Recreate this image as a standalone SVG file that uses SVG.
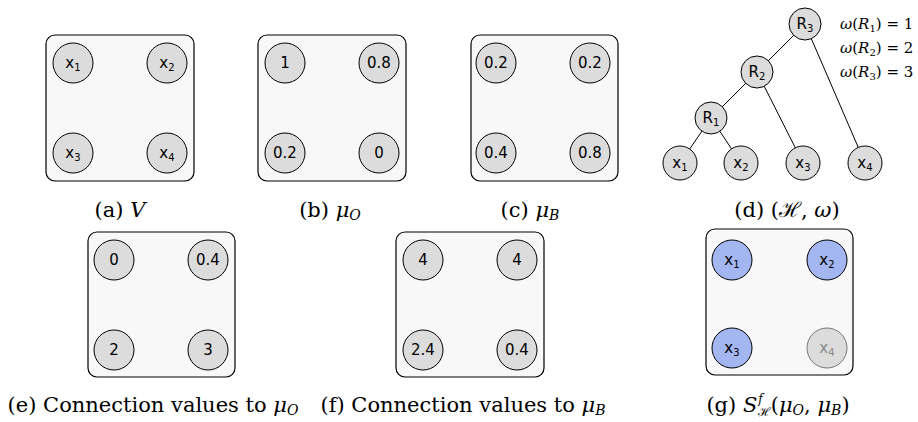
<svg xmlns="http://www.w3.org/2000/svg" width="918" height="422" viewBox="0 0 918 422">
<style>
.box{fill:#f8f8f8;stroke:#000;stroke-width:1.2}
.n{fill:#dcdcdc;stroke:#000;stroke-width:1}
.b{fill:#a4b6f2;stroke:#000;stroke-width:1}
.g{fill:#dcdcdc;stroke:#777;stroke-width:1}
.t{font-family:"DejaVu Sans",sans-serif;font-size:15px;text-anchor:middle;fill:#000}
.tg{fill:#888}
.cap{font-family:"DejaVu Serif",serif;font-size:21px;text-anchor:middle;fill:#000}
.om{font-family:"DejaVu Serif",serif;font-size:15px;fill:#000}
.e{stroke:#000;stroke-width:1}
</style>
<rect width="918" height="422" fill="#fff"/>
<g id="connectors">
<line class="e" x1="805" y1="24" x2="757" y2="72"/>
<line class="e" x1="805" y1="24" x2="865" y2="163"/>
<line class="e" x1="757" y1="72" x2="711" y2="118"/>
<line class="e" x1="757" y1="72" x2="803" y2="163"/>
<line class="e" x1="711" y1="118" x2="680" y2="163"/>
<line class="e" x1="711" y1="118" x2="741" y2="163"/>
</g>
<g id="panel-a">
<rect class="box" x="46" y="35" width="148" height="146" rx="9"/>
<circle class="n" cx="73" cy="63" r="20"/><text class="t" x="73" y="68">x<tspan font-size="10" dy="3">1</tspan></text>
<circle class="n" cx="167" cy="63" r="20"/><text class="t" x="167" y="68">x<tspan font-size="10" dy="3">2</tspan></text>
<circle class="n" cx="73" cy="153" r="20"/><text class="t" x="73" y="158">x<tspan font-size="10" dy="3">3</tspan></text>
<circle class="n" cx="167" cy="153" r="20"/><text class="t" x="167" y="158">x<tspan font-size="10" dy="3">4</tspan></text>
<text class="cap" x="120" y="217">(a) <tspan font-style="italic">V</tspan></text>
</g>
<g id="panel-b">
<rect class="box" x="258" y="35" width="148" height="146" rx="9"/>
<circle class="n" cx="285" cy="63" r="20"/><text class="t" x="285" y="68">1</text>
<circle class="n" cx="379" cy="63" r="20"/><text class="t" x="379" y="68">0.8</text>
<circle class="n" cx="285" cy="153" r="20"/><text class="t" x="285" y="158">0.2</text>
<circle class="n" cx="379" cy="153" r="20"/><text class="t" x="379" y="158">0</text>
<text class="cap" x="330" y="217">(b) <tspan font-style="italic">μ</tspan><tspan font-style="italic" font-size="14" dy="3">O</tspan></text>
</g>
<g id="panel-c">
<rect class="box" x="471" y="35" width="147" height="146" rx="9"/>
<circle class="n" cx="496" cy="63" r="20"/><text class="t" x="496" y="68">0.2</text>
<circle class="n" cx="590" cy="63" r="20"/><text class="t" x="590" y="68">0.2</text>
<circle class="n" cx="496" cy="153" r="20"/><text class="t" x="496" y="158">0.4</text>
<circle class="n" cx="590" cy="153" r="20"/><text class="t" x="590" y="158">0.8</text>
<text class="cap" x="530" y="217">(c) <tspan font-style="italic">μ</tspan><tspan font-style="italic" font-size="14" dy="3">B</tspan></text>
</g>
<g id="panel-d">
<circle class="n" cx="805" cy="24" r="16"/><text class="t" x="805" y="29">R<tspan font-size="10" dy="3">3</tspan></text>
<circle class="n" cx="757" cy="72" r="16"/><text class="t" x="757" y="77">R<tspan font-size="10" dy="3">2</tspan></text>
<circle class="n" cx="711" cy="118" r="16"/><text class="t" x="711" y="123">R<tspan font-size="10" dy="3">1</tspan></text>
<circle class="n" cx="680" cy="163" r="17"/><text class="t" x="680" y="168">x<tspan font-size="10" dy="3">1</tspan></text>
<circle class="n" cx="741" cy="163" r="17"/><text class="t" x="741" y="168">x<tspan font-size="10" dy="3">2</tspan></text>
<circle class="n" cx="803" cy="163" r="17"/><text class="t" x="803" y="168">x<tspan font-size="10" dy="3">3</tspan></text>
<circle class="n" cx="865" cy="163" r="17"/><text class="t" x="865" y="168">x<tspan font-size="10" dy="3">4</tspan></text>
<text class="om" x="840" y="29"><tspan font-style="italic">ω</tspan>(<tspan font-style="italic">R</tspan><tspan font-size="10" dy="3">1</tspan><tspan dy="-3">) = 1</tspan></text>
<text class="om" x="840" y="53"><tspan font-style="italic">ω</tspan>(<tspan font-style="italic">R</tspan><tspan font-size="10" dy="3">2</tspan><tspan dy="-3">) = 2</tspan></text>
<text class="om" x="840" y="77"><tspan font-style="italic">ω</tspan>(<tspan font-style="italic">R</tspan><tspan font-size="10" dy="3">3</tspan><tspan dy="-3">) = 3</tspan></text>
<text class="cap" x="787" y="217">(d) (ℋ, <tspan font-style="italic">ω</tspan>)</text>
</g>
<g id="panel-e">
<rect class="box" x="88" y="232" width="147" height="145" rx="9"/>
<circle class="n" cx="114" cy="260" r="20"/><text class="t" x="114" y="265">0</text>
<circle class="n" cx="208" cy="260" r="20"/><text class="t" x="208" y="265">0.4</text>
<circle class="n" cx="114" cy="350" r="20"/><text class="t" x="114" y="355">2</text>
<circle class="n" cx="208" cy="350" r="20"/><text class="t" x="208" y="355">3</text>
<text class="cap" x="153" y="412">(e) Connection values to <tspan font-style="italic">μ</tspan><tspan font-style="italic" font-size="14" dy="3">O</tspan></text>
</g>
<g id="panel-f">
<rect class="box" x="396" y="232" width="148" height="145" rx="9"/>
<circle class="n" cx="423" cy="260" r="20"/><text class="t" x="423" y="265">4</text>
<circle class="n" cx="517" cy="260" r="20"/><text class="t" x="517" y="265">4</text>
<circle class="n" cx="423" cy="350" r="20"/><text class="t" x="423" y="355">2.4</text>
<circle class="n" cx="517" cy="350" r="20"/><text class="t" x="517" y="355">0.4</text>
<text class="cap" x="463" y="412">(f) Connection values to <tspan font-style="italic">μ</tspan><tspan font-style="italic" font-size="14" dy="3">B</tspan></text>
</g>
<g id="panel-g">
<rect class="box" x="706" y="229" width="147" height="146" rx="9"/>
<circle class="b" cx="732" cy="260" r="20"/><text class="t" x="732" y="265">x<tspan font-size="10" dy="3">1</tspan></text>
<circle class="b" cx="827" cy="260" r="20"/><text class="t" x="827" y="265">x<tspan font-size="10" dy="3">2</tspan></text>
<circle class="b" cx="732" cy="348" r="20"/><text class="t" x="732" y="353">x<tspan font-size="10" dy="3">3</tspan></text>
<circle class="g" cx="827" cy="348" r="20"/><text class="t tg" x="827" y="353">x<tspan font-size="10" dy="3">4</tspan></text>
<text class="cap" x="778" y="412">(g) <tspan font-style="italic">S</tspan><tspan font-style="italic" font-size="12" dx="1" dy="-9">f</tspan><tspan font-size="12" dx="-5" dy="13">ℋ</tspan><tspan dy="-4">(</tspan><tspan font-style="italic">μ</tspan><tspan font-style="italic" font-size="14" dy="3">O</tspan><tspan dy="-3">, </tspan><tspan font-style="italic">μ</tspan><tspan font-style="italic" font-size="14" dy="3">B</tspan><tspan dy="-3">)</tspan></text>
</g>
</svg>
